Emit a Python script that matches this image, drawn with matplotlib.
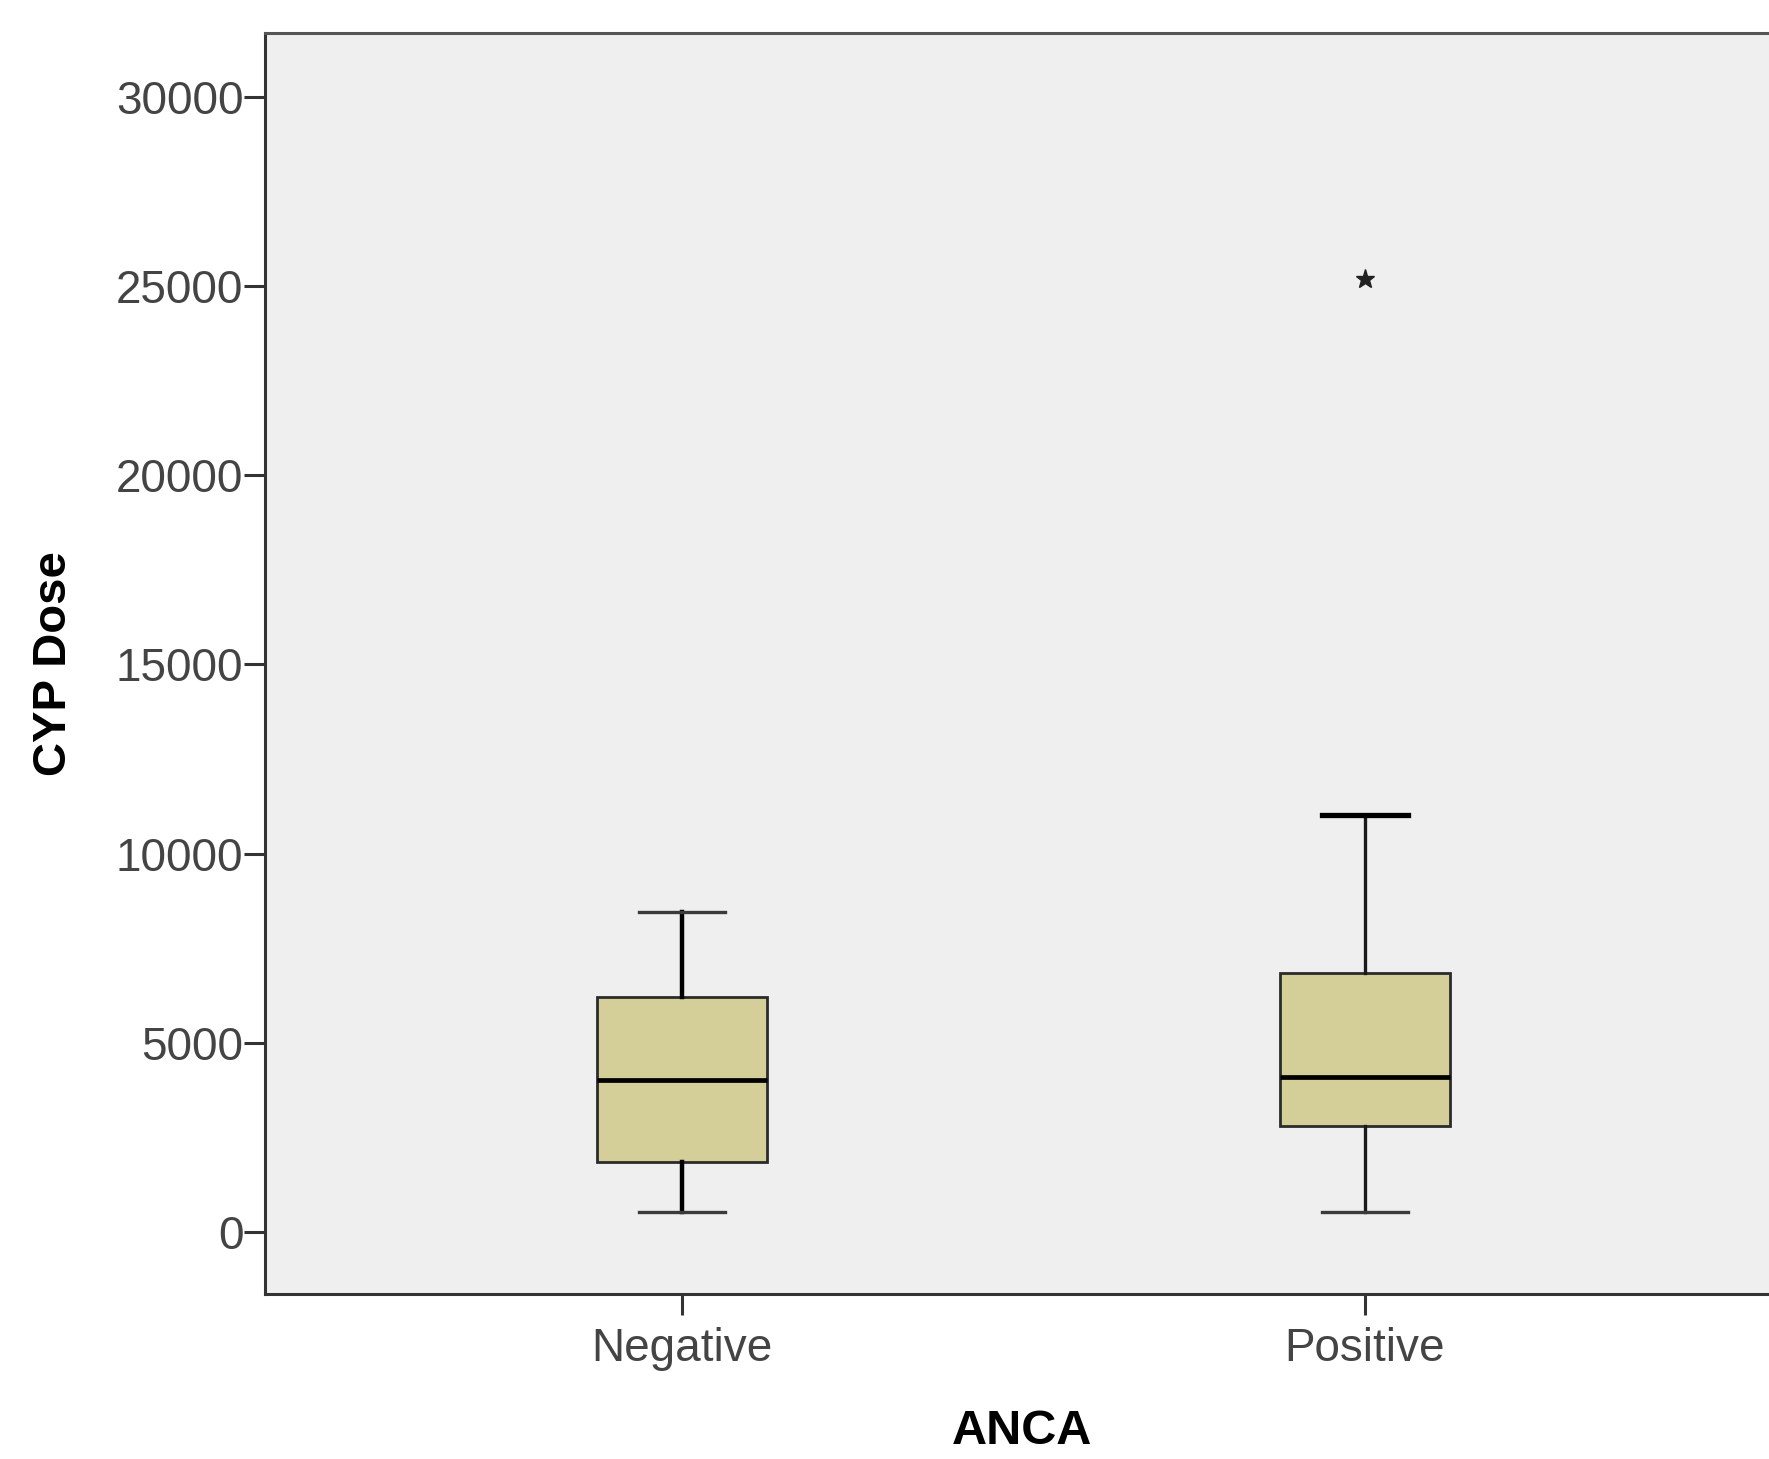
import matplotlib
matplotlib.use("Agg")
import matplotlib.pyplot as plt

plt.rcParams['font.family'] = ['Liberation Sans', 'DejaVu Sans']

# box statistics
groups = ['Negative', 'Positive']
q1 = [1860, 2810]
medians = [4020, 4100]
q3 = [6220, 6850]
whisker_lo = [520, 520]
whisker_hi = [8470, 11020]
outliers = [[], [25200]]

stats = []
for i, g in enumerate(groups):
    stats.append({'label': g, 'q1': q1[i], 'med': medians[i], 'q3': q3[i],
                  'whislo': whisker_lo[i], 'whishi': whisker_hi[i],
                  'fliers': outliers[i]})

fig = plt.figure(figsize=(17.69, 14.59), dpi=100)
ax = fig.add_axes([0.1498, 0.1131, 0.8502, 0.8643])
ax.set_facecolor('#efefef')

bp = ax.bxp(stats, positions=[1, 2], widths=0.25, patch_artist=True,
            capwidths=0.127,
            boxprops=dict(facecolor='#d4cf98', edgecolor='#2b2b2b', linewidth=2.0),
            medianprops=dict(color='black', linewidth=3.4),
            whiskerprops=dict(color='#1a1a1a', linewidth=2.4),
            capprops=dict(color='#3a3a3a', linewidth=2.4),
            flierprops=dict(marker='*', markersize=14, markerfacecolor='#222222',
                            markeredgecolor='#222222', linestyle='none'))

# negative group whiskers are drawn heavier, positive upper cap too
for w in bp['whiskers'][:2]:
    w.set_linewidth(3.2)
    w.set_color('black')
bp['caps'][3].set_linewidth(3.8)
bp['caps'][3].set_color('black')

ax.set_xlim(0.3895, 2.5915)
ax.set_ylim(-1640, 31693)
ax.set_yticks([0, 5000, 10000, 15000, 20000, 25000, 30000])
ax.set_xticks([1, 2])
ax.set_xticklabels(groups)

for s in ['left', 'bottom', 'top']:
    ax.spines[s].set_color('#333333')
    ax.spines[s].set_linewidth(2.2)
ax.spines['top'].set_color('#555555')
ax.spines['right'].set_visible(False)

ax.tick_params(axis='both', length=15, width=2.2, color='#333333',
               labelsize=33, labelcolor='#444444')
ax.tick_params(axis='y', pad=0.5)
ax.tick_params(axis='x', pad=9)

ax.set_xlabel('ANCA', fontsize=35, fontweight='bold', color='black')
ax.set_ylabel('CYP Dose', fontsize=34, fontweight='bold', color='black')
ax.xaxis.set_label_coords(0.503, -0.091)
ax.yaxis.set_label_coords(-0.1257, 0.5)

fig.savefig('out.png', dpi=100)
